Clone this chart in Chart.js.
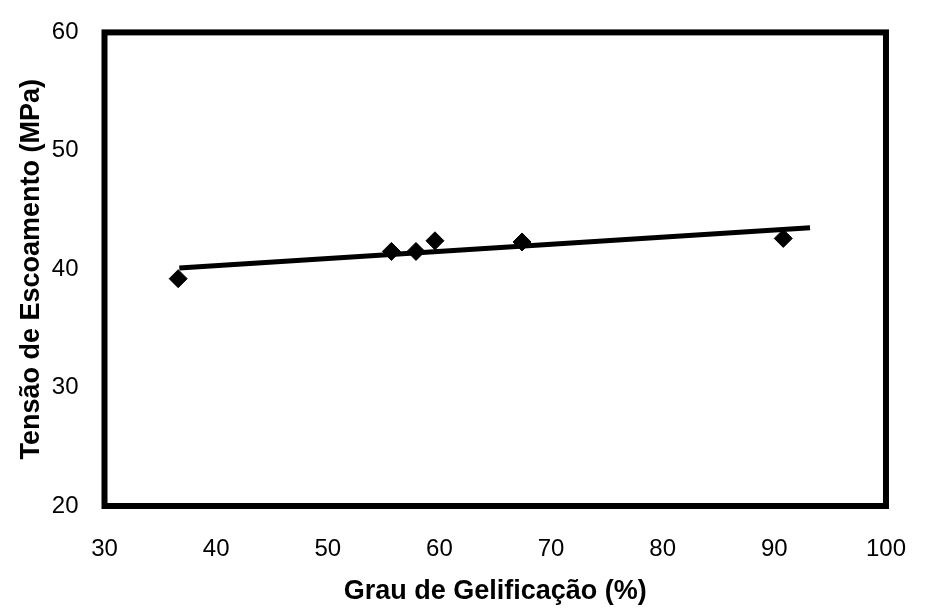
<!DOCTYPE html>
<html>
<head>
<meta charset="utf-8">
<script src="https://cdn.jsdelivr.net/npm/chart.js@4.4.1/dist/chart.umd.min.js"></script>
<style>
  body { margin: 0; background: #fff; }
</style>
</head>
<body>
<canvas id="myChart" width="927" height="612"></canvas>
<script>
// grau de gelificação (%) e tensão de escoamento (MPa)
const gelificacao = [36.6, 55.7, 57.9, 59.6, 67.4, 90.8];
const tensao = [39.2, 41.5, 41.5, 42.4, 42.3, 42.6];

// linha de tendência (extremos)
const tendenciaX = [36.7, 93.2];
const tendenciaY = [40.1, 43.5];

const xTitle = 'Grau de Gelificação (%)';
const yTitle = 'Tensão de Escoamento (MPa)';

// moldura preta grossa em volta da área do gráfico
const frame = {
    id: 'frame',
    afterDraw(chart) {
        const {ctx, chartArea: a} = chart;
        ctx.save();
        ctx.strokeStyle = '#000';
        ctx.lineWidth = 6;
        ctx.strokeRect(a.left, a.top, a.right - a.left, a.bottom - a.top);
        ctx.restore();
    }
};

function drawChart() {
    const ctx = document.getElementById('myChart');

    new Chart(ctx, {
        type: 'scatter',
        data: {
            datasets: [{
                label: 'pontos',
                data: gelificacao.map((x, i) => ({x: x, y: tensao[i]})),
                pointStyle: 'rectRot',
                pointRadius: 9,
                backgroundColor: '#000',
                borderColor: '#000',
                borderWidth: 1,
                order: 0
            }, {
                type: 'line',
                label: 'tendência',
                data: tendenciaX.map((x, i) => ({x: x, y: tendenciaY[i]})),
                borderColor: '#000',
                borderWidth: 5,
                pointRadius: 0,
                fill: false,
                order: 1
            }]
        },
        options: {
            responsive: false,
            animation: false,
            layout: {
                padding: {top: 21, right: 23, left: 0, bottom: 0}
            },
            plugins: {
                legend: { display: false },
                tooltip: { enabled: false }
            },
            scales: {
                x: {
                    type: 'linear',
                    min: 30,
                    max: 100,
                    afterFit: (s) => { s.height = 106; },
                    grid: { display: false },
                    border: { display: false },
                    ticks: {
                        stepSize: 10,
                        padding: 21,
                        color: '#000',
                        font: { family: 'Liberation Sans, Arial', size: 24 }
                    },
                    title: {
                        display: true,
                        text: xTitle,
                        color: '#000',
                        padding: { top: 0, bottom: 4 },
                        font: { family: 'Liberation Sans, Arial', size: 27, weight: 'bold' }
                    }
                },
                y: {
                    type: 'linear',
                    min: 20,
                    max: 60,
                    afterFit: (s) => { s.width = 104.5; },
                    grid: { display: false },
                    border: { display: false },
                    ticks: {
                        stepSize: 10,
                        padding: 18,
                        color: '#000',
                        font: { family: 'Liberation Sans, Arial', size: 24 }
                    },
                    title: {
                        display: true,
                        text: yTitle,
                        color: '#000',
                        padding: { top: 15, bottom: 0 },
                        font: { family: 'Liberation Sans, Arial', size: 27, weight: 'bold' }
                    }
                }
            }
        },
        plugins: [frame]
    });
}

drawChart();
</script>
</body>
</html>
